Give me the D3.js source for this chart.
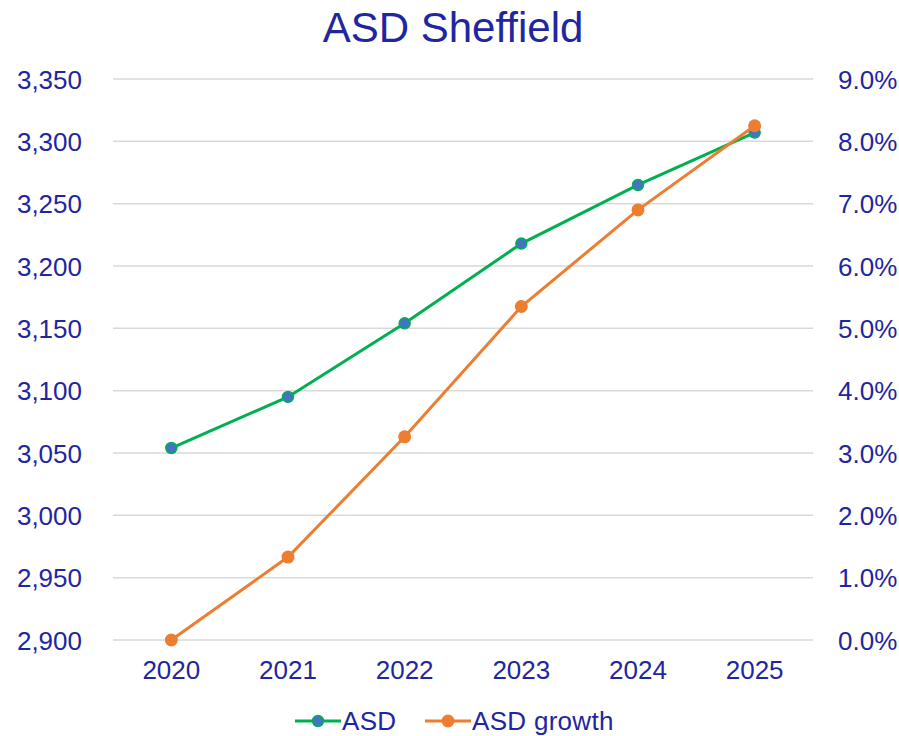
<!DOCTYPE html>
<html>
<head>
<meta charset="utf-8">
<script src="https://cdn.jsdelivr.net/npm/d3@7"></script>
<style>
  body { margin: 0; background: #fff; }
  svg text { font-family: "Liberation Sans", Arial, sans-serif; fill: #1F26A0; }
</style>
</head>
<body>
<svg width="899" height="736"></svg>
<script>
// chart data
const years = ["2020", "2021", "2022", "2023", "2024", "2025"];
const asd = [3054, 3095, 3154, 3218, 3265, 3307];
const asdGrowth = [0.0, 0.0133, 0.0326, 0.0535, 0.069, 0.0825];
const leftTicks = [2900, 2950, 3000, 3050, 3100, 3150, 3200, 3250, 3300, 3350];
const rightTicks = [0, 0.01, 0.02, 0.03, 0.04, 0.05, 0.06, 0.07, 0.08, 0.09];

const svg = d3.select("svg");
const margin = { top: 79, right: 86, bottom: 96, left: 113 };
const width = 899 - margin.left - margin.right;
const height = 736 - margin.top - margin.bottom;

const g = svg.append("g")
	.attr("transform", `translate(${margin.left},${margin.top})`);

const x = d3.scaleBand().domain(years).range([0, width]);
const y = d3.scaleLinear().domain([2900, 3350]).range([height, 0]);
const y2 = d3.scaleLinear().domain([0, 0.09]).range([height, 0]);

// title
svg.append("text")
	.attr("x", 453)
	.attr("y", 42)
	.attr("text-anchor", "middle")
	.style("font-size", "42px")
	.text("ASD Sheffield");

// gridlines
g.append("g")
	.selectAll("line")
	.data(leftTicks)
	.enter().append("line")
	.attr("x1", 0)
	.attr("x2", width)
	.attr("y1", d => y(d))
	.attr("y2", d => y(d))
	.attr("stroke", "#d9d9d9")
	.attr("stroke-width", 1.5);

// left axis
const leftAxis = g.append("g")
	.call(d3.axisLeft(y).tickValues(leftTicks).tickFormat(d3.format(",")).tickSize(0).tickPadding(31));
leftAxis.select(".domain").remove();
leftAxis.selectAll("text").style("font-size", "26px").attr("dy", "0.35em");

// right axis
const rightAxis = g.append("g")
	.attr("transform", `translate(${width},0)`)
	.call(d3.axisRight(y2).tickValues(rightTicks).tickFormat(d3.format(".1%")).tickSize(0).tickPadding(25));
rightAxis.select(".domain").remove();
rightAxis.selectAll("text").style("font-size", "26px").attr("dy", "0.35em");

// bottom axis
const bottomAxis = g.append("g")
	.attr("transform", `translate(0,${height})`)
	.call(d3.axisBottom(x).tickSize(0).tickPadding(21));
bottomAxis.select(".domain").remove();
bottomAxis.selectAll("text").style("font-size", "26px");

const cx = d => x(d) + x.bandwidth() / 2;

// ASD line
g.append("path")
	.datum(asd)
	.attr("fill", "none")
	.attr("stroke", "#00B050")
	.attr("stroke-width", 3)
	.attr("d", d3.line().x((d, i) => cx(years[i])).y(d => y(d)));

g.append("g")
	.selectAll("circle")
	.data(asd)
	.enter().append("circle")
	.attr("cx", (d, i) => cx(years[i]))
	.attr("cy", d => y(d))
	.attr("r", 5.5)
	.attr("fill", "#4472C4")
	.attr("stroke", "#00B050")
	.attr("stroke-width", 1.5);

// growth line
g.append("path")
	.datum(asdGrowth)
	.attr("fill", "none")
	.attr("stroke", "#ED7D31")
	.attr("stroke-width", 3)
	.attr("d", d3.line().x((d, i) => cx(years[i])).y(d => y2(d)));

g.append("g")
	.selectAll("circle")
	.data(asdGrowth)
	.enter().append("circle")
	.attr("cx", (d, i) => cx(years[i]))
	.attr("cy", d => y2(d))
	.attr("r", 6.5)
	.attr("fill", "#ED7D31");

// legend
const legend = svg.append("g").attr("transform", "translate(0,721)");
const items = [
	{ name: "ASD", x: 295, stroke: "#00B050", fill: "#4472C4", r: 5.5 },
	{ name: "ASD growth", x: 425, stroke: "#ED7D31", fill: "#ED7D31", r: 6.5 }
];
items.forEach(it => {
	legend.append("line")
		.attr("x1", it.x).attr("x2", it.x + 46)
		.attr("y1", 0).attr("y2", 0)
		.attr("stroke", it.stroke).attr("stroke-width", 3);
	legend.append("circle")
		.attr("cx", it.x + 23).attr("cy", 0).attr("r", it.r)
		.attr("fill", it.fill)
		.attr("stroke", it.stroke).attr("stroke-width", it.name === "ASD" ? 1.5 : 0);
	legend.append("text")
		.attr("x", it.x + 47).attr("y", 0).attr("dy", "0.35em")
		.style("font-size", "26px")
		.style("letter-spacing", "0.3px")
		.text(it.name);
});
</script>
</body>
</html>
